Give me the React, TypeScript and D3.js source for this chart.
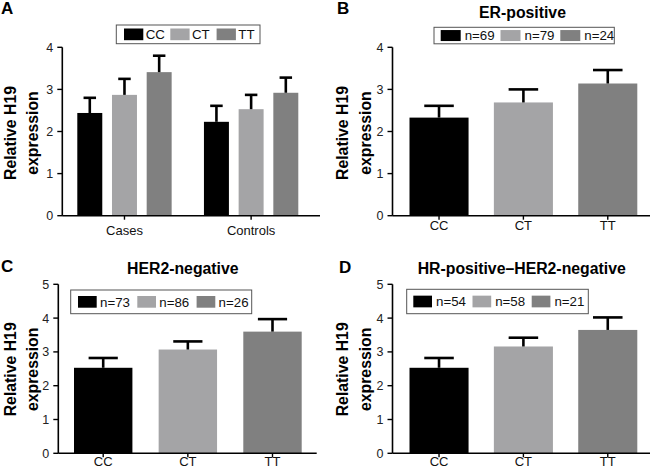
import React from "react";
import * as d3 from "d3";

// ---------- data ----------
const genotypes = ["CC", "CT", "TT"];
const groupsA = ["Cases", "Controls"];
const meansA_cases = [2.44, 2.87, 3.41];
const errA_cases = [0.36, 0.38, 0.39];
const meansA_controls = [2.23, 2.53, 2.92];
const errA_controls = [0.38, 0.34, 0.36];

const meansB = [2.33, 2.69, 3.14];
const errB = [0.28, 0.31, 0.32];
const nB = [69, 79, 24];

const meansC = [2.53, 3.07, 3.6];
const errC = [0.29, 0.24, 0.37];
const nC = [73, 86, 26];

const meansD = [2.53, 3.16, 3.65];
const errD = [0.29, 0.26, 0.37];
const nD = [54, 58, 21];

const ticksAB = [0, 1, 2, 3, 4];
const ticksCD = [0, 1, 2, 3, 4, 5];

const titleB = "ER-positive";
const titleC = "HER2-negative";
const titleD = "HR-positive\u2013HER2-negative";
const yTitle1 = "Relative H19";
const yTitle2 = "expression";

// ---------- style ----------
const FONT = "'Liberation Sans', Arial, Helvetica, sans-serif";
const fillFor: Record<string, string> = { CC: "#000000", CT: "#a4a4a6", TT: "#808080" };

type Legend = { x: number; y: number; w: number; h: number; sx: number; step: number; sw: number; sh: number; tx: number; labels: string[] };

type Cfg = {
  letter: string; letterX: number; letterY: number;
  title?: string; titleX?: number; titleY?: number;
  axisX: number; xEnd: number; y0: number; yTop: number; yMax: number; ticks: number[];
  yt1: number; yt2: number; ytY: number; catDy: number;
  legend: Legend;
  grouped: boolean;
  bandRange: [number, number]; padInner: number;
};

function YAxis({ c, y }: { c: Cfg; y: d3.ScaleLinear<number, number> }) {
  return (
    <g>
      <line x1={c.axisX} x2={c.axisX} y1={y(c.yMax)} y2={c.y0} stroke="#000" strokeWidth={1.6} />
      {c.ticks.map((t) => (
        <g key={t}>
          <line x1={c.axisX - 5} x2={c.axisX} y1={y(t)} y2={y(t)} stroke="#000" strokeWidth={1.4} />
          <text x={c.axisX - 9} y={y(t) + 4.5} textAnchor="end" fontSize={12.5} fill="#222">{t}</text>
        </g>
      ))}
      <line x1={c.axisX} x2={c.xEnd} y1={c.y0} y2={c.y0} stroke="#000" strokeWidth={1.6} />
    </g>
  );
}

function LegendBox({ l }: { l: Legend }) {
  return (
    <g>
      <rect x={l.x} y={l.y} width={l.w} height={l.h} fill="#fff" stroke="#555" strokeWidth={1} />
      {genotypes.map((g, i) => (
        <g key={g}>
          <rect x={l.x + l.sx + i * l.step} y={l.y + (l.h - l.sh) / 2} width={l.sw} height={l.sh} fill={fillFor[g]} />
          <text x={l.x + l.sx + i * l.step + l.tx} y={l.y + l.h / 2 + 4.7} fontSize={13.3} fill="#111">{l.labels[i]}</text>
        </g>
      ))}
    </g>
  );
}

function Bar({ x, w, mean, err, color, y, y0 }: any) {
  const top = y(mean);
  const et = y(mean + err);
  const cx = x + w / 2;
  return (
    <g>
      <rect x={x} y={top} width={w} height={y0 - top} fill={color} />
      <line x1={cx} x2={cx} y1={top} y2={et} stroke="#000" strokeWidth={2.6} />
      <line x1={cx - w / 4} x2={cx + w / 4} y1={et} y2={et} stroke="#000" strokeWidth={2.6} />
    </g>
  );
}

function Panel({ c, means, errs }: { c: Cfg; means: number[][]; errs: number[][] }) {
  const y = d3.scaleLinear().domain([0, c.yMax]).range([c.y0, c.yTop]);
  const cats = c.grouped ? groupsA : genotypes;
  const outer = d3.scaleBand<string>().domain(cats).range(c.bandRange).paddingInner(c.padInner).paddingOuter(0);
  const inner = d3.scaleBand<string>().domain(genotypes).range([0, outer.bandwidth()]).paddingInner(0.28).paddingOuter(0);
  const midY = c.ytY;
  return (
    <g>
      <text x={c.letterX} y={c.letterY} fontSize={17} fontWeight="bold">{c.letter}</text>
      {c.title && (
        <text x={c.titleX} y={c.titleY} fontSize={15.8} fontWeight="bold" textAnchor="middle">{c.title}</text>
      )}
      <text transform={`translate(${c.yt1},${midY}) rotate(-90)`} textAnchor="middle" fontSize={15.8} fontWeight="bold">{yTitle1}</text>
      <text transform={`translate(${c.yt2},${midY}) rotate(-90)`} textAnchor="middle" fontSize={15.8} fontWeight="bold">{yTitle2}</text>

      {cats.map((cat, gi) => {
        const gx = outer(cat)!;
        const cx = gx + outer.bandwidth() / 2;
        return (
          <g key={cat}>
            {c.grouped
              ? genotypes.map((g, i) => (
                  <Bar key={g} x={gx + inner(g)!} w={inner.bandwidth()} mean={means[gi][i]} err={errs[gi][i]} color={fillFor[g]} y={y} y0={c.y0} />
                ))
              : <Bar x={gx} w={outer.bandwidth()} mean={means[0][gi]} err={errs[0][gi]} color={fillFor[cat]} y={y} y0={c.y0} />}
            <line x1={cx} x2={cx} y1={c.y0} y2={c.y0 + 4} stroke="#000" strokeWidth={1.4} />
            <text x={cx} y={c.y0 + c.catDy} textAnchor="middle" fontSize={13} fill="#111">{cat}</text>
          </g>
        );
      })}
      <YAxis c={c} y={y} />
      <LegendBox l={c.legend} />
    </g>
  );
}

const cfgA: Cfg = {
  letter: "A", letterX: 1, letterY: 14,
  axisX: 62.3, xEnd: 320, y0: 215.7, yTop: 47.3, yMax: 4, ticks: ticksAB,
  yt1: 16, yt2: 38, ytY: 133, catDy: 19.3,
  legend: { x: 116.3, y: 25, w: 143.7, h: 18.7, sx: 7.7, step: 46.3, sw: 19.3, sh: 11.7, tx: 21.7, labels: genotypes },
  grouped: true, bandRange: [77.3, 298.3], padInner: 0.255,
};
const cfgB: Cfg = {
  letter: "B", letterX: 337, letterY: 14,
  title: titleB, titleX: 522.5, titleY: 18,
  axisX: 392.5, xEnd: 650, y0: 215.7, yTop: 47.3, yMax: 4, ticks: ticksAB,
  yt1: 348.3, yt2: 371, ytY: 133, catDy: 14.5,
  legend: { x: 434, y: 27.3, w: 180.3, h: 16.5, sx: 6.7, step: 59.8, sw: 20, sh: 11, tx: 24, labels: nB.map((n) => `n=${n}`) },
  grouped: false, bandRange: [409.5, 637.3], padInner: 0.3,
};
const cfgC: Cfg = {
  letter: "C", letterX: 1, letterY: 271.5,
  title: titleC, titleX: 182.8, titleY: 274,
  axisX: 58.3, xEnd: 316.7, y0: 453.3, yTop: 284.3, yMax: 5, ticks: ticksCD,
  yt1: 16, yt2: 38, ytY: 369.3, catDy: 12.7,
  legend: { x: 70.7, y: 290, w: 181, h: 23.7, sx: 7.3, step: 59.3, sw: 18.7, sh: 11.7, tx: 22, labels: nC.map((n) => `n=${n}`) },
  grouped: false, bandRange: [74, 301.7], padInner: 0.31,
};
const cfgD: Cfg = {
  letter: "D", letterX: 339, letterY: 273,
  title: titleD, titleX: 521.7, titleY: 273.5,
  axisX: 392.5, xEnd: 650, y0: 453.3, yTop: 284.3, yMax: 5, ticks: ticksCD,
  yt1: 348.3, yt2: 371, ytY: 369.3, catDy: 12.7,
  legend: { x: 406.7, y: 289.3, w: 181.6, h: 24.4, sx: 6.6, step: 59.2, sw: 18.7, sh: 11.7, tx: 22.7, labels: nD.map((n) => `n=${n}`) },
  grouped: false, bandRange: [409.5, 637.3], padInner: 0.3,
};

export default function App() {
  return (
    <svg width={651} height={473} style={{ position: "absolute", left: 0, top: 0, background: "#fff" }} fontFamily={FONT}>
      <rect width={651} height={473} fill="#fff" />
      <Panel c={cfgA} means={[meansA_cases, meansA_controls]} errs={[errA_cases, errA_controls]} />
      <Panel c={cfgB} means={[meansB]} errs={[errB]} />
      <Panel c={cfgC} means={[meansC]} errs={[errC]} />
      <Panel c={cfgD} means={[meansD]} errs={[errD]} />
    </svg>
  );
}
